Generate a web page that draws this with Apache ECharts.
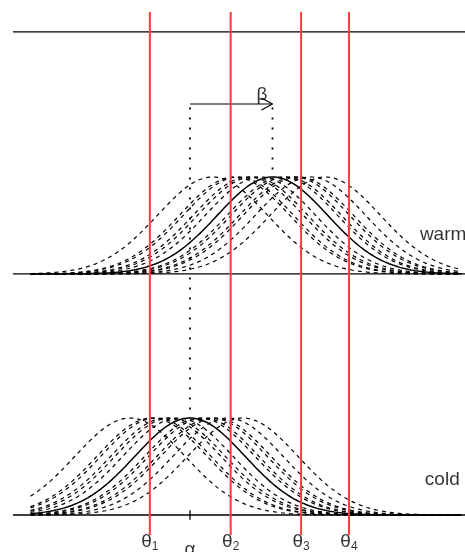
<!DOCTYPE html>
<html>
<head>
<meta charset="utf-8">
<script src="https://cdn.jsdelivr.net/npm/echarts@6/dist/echarts.min.js"></script>
<style>
  html, body { margin: 0; padding: 0; background: #fff; }
  #chart { width: 465px; height: 552px; }
</style>
</head>
<body>
<div id="chart"></div>
<script>
// latent scale: alpha = 0, sd of every curve = 1
var thresholds = [-0.73, 0.74, 2.02, 2.89];
var thresholdNames = ['1', '2', '3', '4'];
var alpha = 0;
var beta = 1.5;
var curveSd = 1;
// shifts of the dashed (individual) curves around the mean curve
var judgeOffsets = [-1.09, -0.69, -0.62, -0.44, -0.36, -0.22, 0.18, 0.25, 0.4, 0.47, 0.69, 0.96];
var conditions = ['cold', 'warm'];
var conditionShift = [0, beta];

// layout (vertical stacking of the two panels)
var panelBase = [0, 2.485];
var topLine = 4.98;
var xFrom = -2.9, xTo = 4.96;

function curve(mean, base) {
    var pts = [];
    for (var x = xFrom; x <= xTo + 1e-9; x += 0.04) {
        var z = (x - mean) / curveSd;
        pts.push([x, base + Math.exp(-z * z / 2)]);
    }
    return pts;
}

var series = [];
function addLine(data, style, z) {
    series.push({
        type: 'line', data: data, symbol: 'none', silent: true, z: z || 2,
        lineStyle: style, animation: false
    });
}

var black = '#000';
// horizontal frame lines
[panelBase[0], panelBase[1], topLine].forEach(function (y) {
    addLine([[-3.218, y], [5.0, y]], {color: black, width: 1.3});
});

conditions.forEach(function (c, i) {
    var m = alpha + conditionShift[i];
    judgeOffsets.forEach(function (o) {
        addLine(curve(m + o, panelBase[i]), {color: black, width: 1.2, type: [4, 4]});
    });
    addLine(curve(m, panelBase[i]), {color: black, width: 1.5}, 3);
});

// dotted guides and arrow for beta
var arrowY = 4.237;
var dotted = {color: black, width: 1.8, type: [1.8, 8.2], cap: 'butt'};
addLine([[alpha, 4.2], [alpha, panelBase[0] + 1]], dotted);
addLine([[alpha + beta, 4.2], [alpha + beta, panelBase[1] + 1]], dotted);
addLine([[alpha, arrowY], [alpha + beta, arrowY]], {color: black, width: 1.2});
addLine([[alpha + beta - 0.2, arrowY + 0.062], [alpha + beta, arrowY], [alpha + beta - 0.2, arrowY - 0.062]], {color: black, width: 1.2});

// alpha tick
addLine([[alpha, 0.05], [alpha, -0.05]], {color: black, width: 1.3});

// thresholds
thresholds.forEach(function (t) {
    addLine([[t, 5.186], [t, -0.206]], {color: '#ff3b3b', width: 2}, 5);
});

var labelFont = '"Liberation Sans", Arial, sans-serif';
var labels = [];
thresholds.forEach(function (t, i) {
    labels.push({value: [t, -0.278], text: '{t|θ}{s|' + thresholdNames[i] + '}', align: 'center'});
});
labels.push({value: [alpha, -0.36], text: '{t|α}', align: 'center'});
labels.push({value: [1.31, 4.33], text: '{t|β}', align: 'center'});
labels.push({value: [4.18, 2.887], text: '{t|' + conditions[1] + '}', align: 'left'});
labels.push({value: [4.27, 0.36], text: '{t|' + conditions[0] + '}', align: 'left'});

series.push({
    type: 'scatter', symbolSize: 0, silent: true, animation: false, z: 6,
    data: labels.map(function (l) {
        return {
            value: l.value,
            label: {
                show: true, position: 'inside', align: l.align, verticalAlign: 'middle',
                formatter: l.text,
                rich: {
                    t: {fontSize: 19, fontFamily: labelFont, color: black},
                    s: {fontSize: 12, fontFamily: labelFont, color: black, padding: [9, 0, 0, 0]}
                }
            }
        };
    })
});

var chart = echarts.init(document.getElementById('chart'));
chart.setOption({
    backgroundColor: '#fff',
    grid: {left: 0, right: 0, top: 0, bottom: 0},
    xAxis: {type: 'value', min: -3.4545, max: 5.0, show: false},
    yAxis: {type: 'value', min: -0.3814, max: 5.3093, show: false},
    series: series
});
</script>
</body>
</html>
